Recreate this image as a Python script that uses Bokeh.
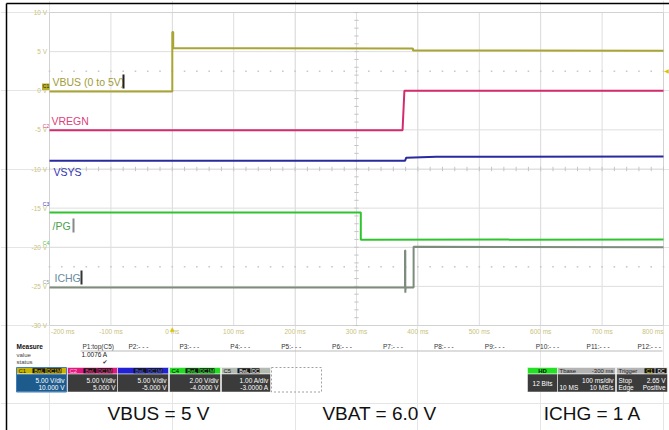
import numpy as np
from bokeh.plotting import figure
from bokeh.models import Range1d
from bokeh.embed import file_html
from bokeh.resources import INLINE
from bokeh.core.properties import value

# ---------------- data ----------------
vbus_t = [-200, 0, 0, 1.5, 1.5, 392, 392, 800]
vbus_v = [-0.1, -0.1, 7.5, 7.5, 5.45, 5.4, 5.15, 5.1]
vregn_t = [-200, 375, 378, 800]
vregn_v = [-5.05, -5.05, 0.0, 0.0]
vsys_t = [-200, 379, 381, 430, 800]
vsys_v = [-8.95, -8.95, -8.55, -8.45, -8.4]
pg_t = [-200, 307, 307, 800]
pg_v = [-15.55, -15.55, -19.05, -19.0]
ichg_t = [-200, 379, 379, 379.5, 379.5, 380, 393, 393, 800]
ichg_v = [-25.15, -25.15, -20.4, -20.4, -25.8, -25.15, -25.15, -19.95, -20.0]

trace_names = ["VBUS (0 to 5V)", "VREGN", "VSYS", "/PG", "ICHG"]
trace_colors = ["#a9a535", "#d42a6e", "#2a2aa0", "#2fc42f", "#7d8c7d"]
label_colors = ["#a09c3c", "#e0407c", "#3434b4", "#4aa04a", "#6a8ca0"]

x_ticks = [-200, -100, 0, 100, 200, 300, 400, 500, 600, 700, 800]
x_tick_labels = ["-200 ms", "-100 ms", "0 ms", "100 ms", "200 ms", "300 ms",
                 "400 ms", "500 ms", "600 ms", "700 ms", "800 ms"]
y_ticks = [10, 5, 0, -5, -10, -15, -20, -25, -30]
y_tick_labels = ["10 V", "5 V", "0 V", "-5 V", "-10 V", "-15 V", "-20 V", "-25 V", "-30 V"]

channel_names = ["C1", "C2", "C3", "C4", "C5"]
channel_offsets_v = [0, -5, -15, -20, -25]
channel_vdiv = ["5.00 V/div", "5.00 V/div", "5.00 V/div", "2.00 V/div", "1.00 A/div"]
channel_offset = ["10.000 V", "5.000 V", "-5.000 V", "-4.0000 V", "-3.0000 A"]
channel_coupling = ["DC1M", "DC1M", "DC1M", "DC1M", "DC"]

measure_params = ["P1:top(C5)", "P2:- - -", "P3:- - -", "P4:- - -", "P5:- - -", "P6:- - -",
                  "P7:- - -", "P8:- - -", "P9:- - -", "P10:- - -", "P11:- - -", "P12:- - -"]
measure_value = "1.0076 A"

captions = ["VBUS = 5 V", "VBAT = 6.0 V", "ICHG = 1 A"]

# ---------------- page-pixel helpers for decorations ----------------
W, H = 669, 430
PX_MS = 0.614      # pixels per ms
PX_V = 7.825       # pixels per volt
X0 = 171.8         # page x of 0 ms
Y0 = 90.25         # page y of 0 V
FONT = "Liberation Sans"
TICK_COL = "#c9c27c"
T_MIN, T_MAX, V_MIN, V_MAX = -200, 800, -30, 10


def ms(px):
    return (px - X0) / PX_MS


def volt(py):
    return (Y0 - py) / PX_V


def MS(seq):
    return [ms(v) for v in seq]


def VV(seq):
    return [volt(v) for v in seq]


p = figure(width=W, height=H, x_range=Range1d(ms(0), ms(W)), y_range=Range1d(volt(H), volt(0)),
           output_backend="svg", toolbar_location=None, x_axis_location=None,
           y_axis_location=None, min_border=0)
p.min_border_left = p.min_border_right = p.min_border_top = p.min_border_bottom = 0
p.outline_line_color = None
p.background_fill_color = "white"
p.border_fill_color = "white"


def txt(xs, ys, texts, size="6.5px", color="#222222", align="left", font=FONT, style="normal",
        baseline="middle"):
    p.text(xs, ys, texts, text_font=value(font), text_font_size=value(size),
           text_color=color, text_align=align, text_baseline=baseline, text_font_style=style)


# outer frame lines of the screenshot
p.segment(ms(6), volt(3), ms(W), volt(3), line_color="black", line_width=1.5)
p.segment(ms(6), volt(3), ms(6), volt(H), line_color="black", line_width=1.5)

# ---------------- scope screen ----------------
p.segment(x_ticks, [V_MIN] * len(x_ticks), x_ticks, [V_MAX] * len(x_ticks),
          line_color="#dedede", line_width=1)
p.segment([T_MIN] * len(y_ticks), y_ticks, [T_MAX] * len(y_ticks), y_ticks,
          line_color="#dedede", line_width=1)
p.quad(left=[T_MIN], right=[T_MAX], bottom=[V_MIN], top=[V_MAX], fill_alpha=0,
       line_color="#d2d2d2", line_width=1)

mx = np.arange(-200, 801, 20)
p.segment(mx, -10.28, mx, -9.72, line_color="#c4c4c4", line_width=1)
my = np.arange(-30, 10.01, 1)
p.segment(300 - 3.5, my, 300 + 3.5, my, line_color="#c4c4c4", line_width=1)
for yrow in (2.5, -22.5):
    p.scatter(mx, [yrow] * len(mx), marker="square", size=1.6, color="#c8c8c8", line_color=None)

# y tick labels and x tick labels
txt([ms(46.5)] * len(y_ticks), y_ticks, y_tick_labels, color=TICK_COL, align="right")
x_align = ["left"] + ["center"] * (len(x_ticks) - 2) + ["right"]
x_pos = [x_ticks[0] + 1.5 / PX_MS] + x_ticks[1:]
p.text(x_pos, [volt(331)] * len(x_ticks), x_tick_labels, text_font=value(FONT),
       text_font_size=value("6.5px"), text_color=TICK_COL, text_align=x_align,
       text_baseline="middle")

# traces
for tt, vv, c in zip([vbus_t, vregn_t, vsys_t, pg_t, ichg_t],
                     [vbus_v, vregn_v, vsys_v, pg_v, ichg_v], trace_colors):
    p.line(tt, vv, line_color=c, line_width=2)

# trace labels
txt(MS([52, 51, 53, 52, 54]), VV([81, 120, 171, 225, 277]), trace_names, size="10.5px",
    color=label_colors)
# cursor bars
bar_x = MS([123, 73, 81])
bar_y = [81, 225, 277]
p.segment(bar_x, VV([y - 7 for y in bar_y]), bar_x, VV([y + 7 for y in bar_y]),
          line_color=["#222222", "#888888", "#333333"], line_width=2)

# channel markers on the left edge
p.quad(left=[ms(41.5)], right=[ms(49)], top=[volt(83)], bottom=[volt(89.5)],
       fill_color="#b8ae28", line_color=None)
txt([ms(45.5)] * 5, [v + 0.55 for v in channel_offsets_v], channel_names, size="5px",
    color=["#2a2a08", "#e0407c", "#3434c4", "#40c040", "#90a0a0"], align="center")

# trigger markers
txt([0], [volt(327.5)], ["\u25B2"], size="6px", color="#d8c400", align="center", font="DejaVu Sans")
txt([ms(666)], [2.65], ["\u25C0"], size="6px", color="#d8c400", align="center", font="DejaVu Sans")

# ---------------- info panel below the screen ----------------
txt([ms(16)], [volt(345.5)], ["Measure"], style="bold", color="#111111")
meas_x = [82] + [128 + 50.9 * k for k in range(11)]
txt(MS(meas_x), [volt(345.5)] * len(meas_x), measure_params, color="#333333")
p.segment(ms(80), volt(350.5), ms(662), volt(350.5), line_color="#bbbbbb", line_width=1)
txt([ms(16)] * 2, VV([354, 361]), ["value", "status"], size="6px", color="#444444")
txt([ms(107)], [volt(354)], [measure_value], align="right")
txt([ms(107)], [volt(360.5)], ["\u2714"], align="right", font="DejaVu Sans", size="6px",
    color="#333333")

# channel descriptor boxes
ch_left = [16, 67, 117, 169, 221]
ch_right = [66, 117, 168, 220, 270]
head_col = ["#c9b500", "#e01a7c", "#2222d4", "#24dc24", "#b2bab2"]
body_col = ["#1d5b8d", "#3b3b3b", "#3b3b3b", "#3b3b3b", "#3b3b3b"]
tag_txt_col = ["#e8d800", "#ff3d9c", "#4a62ff", "#33ff33", "#ffffff"]
name_col = ["#1a1a1a", "#ffc6e0", "#2222d4", "#0a0a0a", "#1a1a1a"]
HT, HB, BB = 367, 373.5, 391.5
n = len(ch_left)
p.quad(left=MS(ch_left), right=MS(ch_right), top=[volt(HT)] * n, bottom=[volt(HB)] * n,
       fill_color=head_col, line_color="white", line_width=0.5)
p.quad(left=MS(ch_left), right=MS(ch_right), top=[volt(HB)] * n, bottom=[volt(BB)] * n,
       fill_color=body_col, line_color="white", line_width=0.5)
p.quad(left=[ms(16)], right=[ms(66)], top=[volt(HT)], bottom=[volt(BB)], fill_alpha=0,
       line_color="#3f7fbf", line_width=1)
txt(MS([l + 2 for l in ch_left]), [volt(370.3)] * n, channel_names, size="6px", color=name_col)
tag1_l = [l + 16 for l in ch_left]
tag1_r = [l + 29 for l in ch_left]
tag2_l = [l + 30 for l in ch_left]
tag2_r = [l + (45 if c == "DC1M" else 38) for l, c in zip(ch_left, channel_coupling)]
for tl, tr, labels in ((tag1_l, tag1_r, ["BwL"] * n), (tag2_l, tag2_r, channel_coupling)):
    p.quad(left=MS(tl), right=MS(tr), top=[volt(HT + 0.8)] * n, bottom=[volt(HB - 0.8)] * n,
           fill_color="#151515", line_color=None)
    txt(MS([(a + b) / 2 for a, b in zip(tl, tr)]), [volt(370.3)] * n, labels, size="5px",
        color=tag_txt_col, align="center")
txt(MS([r - 2 for r in ch_right]), [volt(379.5)] * n, channel_vdiv, color="white", align="right")
txt(MS([r - 2 for r in ch_right]), [volt(386.8)] * n, channel_offset, color="white", align="right")
p.quad(left=[ms(271)], right=[ms(321)], top=[volt(HT)], bottom=[volt(BB)], fill_alpha=0,
       line_color="#a0a0a0", line_dash="2 2", line_width=1)

# timebase / trigger boxes
bx_l = [527, 557, 616]
bx_r = [557, 615, 667]
p.quad(left=MS(bx_l), right=MS(bx_r), top=[volt(HT)] * 3, bottom=[volt(HB)] * 3,
       fill_color=["#24e024", "#b4b4b4", "#b4b4b4"], line_color="white", line_width=0.5)
p.quad(left=MS(bx_l), right=MS(bx_r), top=[volt(HB)] * 3, bottom=[volt(BB)] * 3,
       fill_color="#3b3b3b", line_color="white", line_width=0.5)
txt([ms(542)], [volt(370.3)], ["HD"], size="6px", color="#111111", align="center", style="bold")
txt([ms(542)], [volt(382.5)], ["12 Bits"], color="white", align="center")
txt(MS([559, 618]), [volt(370.3)] * 2, ["Tbase", "Trigger"], size="6px", color="#222222")
txt([ms(613)], [volt(370.3)], ["-300 ms"], size="6px", color="#222222", align="right")
p.quad(left=MS([644, 655]), right=MS([654, 666]), top=[volt(HT + 0.8)] * 2,
       bottom=[volt(HB - 0.8)] * 2, fill_color="#151515", line_color=None)
txt(MS([649, 660.5]), [volt(370.3)] * 2, ["C1", "DC"], size="5px", color=["#e8d800", "#ffffff"],
    align="center")
txt(MS([613, 665]), [volt(379.5)] * 2, ["100 ms/div", "2.65 V"], color="white", align="right")
txt(MS([613, 665]), [volt(386.8)] * 2, ["10 MS/s", "Positive"], color="white", align="right")
txt(MS([559, 618, 618]), VV([386.8, 379.5, 386.8]), ["10 MS", "Stop", "Edge"], color="white")

# captions
txt(MS([158, 379, 592]), [volt(412.5)] * 3, captions, size="19px", color="#111111", align="center")

open("out.html", "w").write(file_html(p, INLINE))
